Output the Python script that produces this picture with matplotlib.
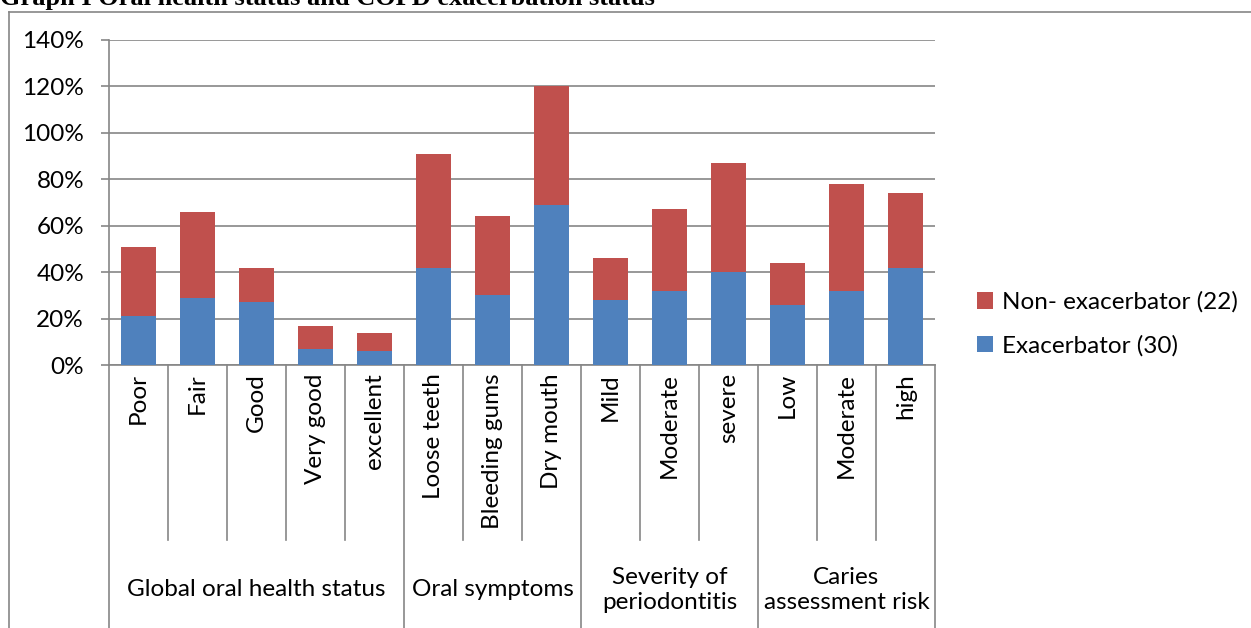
import numpy as np
import matplotlib
matplotlib.use("Agg")
import matplotlib.pyplot as plt
from matplotlib.lines import Line2D
from matplotlib.ticker import PercentFormatter

# Data (percent)
categories = ["Poor", "Fair", "Good", "Very good", "excellent",
              "Loose teeth", "Bleeding gums", "Dry mouth",
              "Mild", "Moderate", "severe",
              "Low", "Moderate", "high"]
exacerbator = [21, 29, 27, 7, 6, 42, 30, 69, 28, 32, 40, 26, 32, 42]
totals = [51, 66, 42, 17, 14, 91, 64, 120, 46, 67, 87, 44, 78, 74]
non_exacerbator = [t - e for t, e in zip(totals, exacerbator)]

groups = ["Global oral health status", "Oral symptoms",
          "Severity of\nperiodontitis", "Caries\nassessment risk"]
group_sizes = [5, 3, 3, 3]

BLUE = "#4F81BD"
RED = "#C0504D"
GRID = "#868686"
FONT = "Lato"
FS = 17.5

plt.rcParams['font.family'] = [FONT, 'DejaVu Sans']

W, H = 1251, 628
fig = plt.figure(figsize=(W / 100, H / 100), dpi=100)
ax = fig.add_axes([109 / W, 1 - 365 / H, (935 - 109) / W, (365 - 40) / H])

x = np.arange(len(categories))
ax.bar(x, exacerbator, width=0.6, color=BLUE, label="Exacerbator (30)", zorder=3)
ax.bar(x, non_exacerbator, width=0.6, bottom=exacerbator, color=RED,
       label="Non- exacerbator (22)", zorder=3)

ax.set_xlim(-0.5, len(categories) - 0.5)
ax.set_ylim(0, 140)
ax.set_yticks(np.arange(0, 141, 20))
ax.yaxis.set_major_formatter(PercentFormatter(decimals=0))
ax.yaxis.grid(True, color=GRID, linewidth=1.2, zorder=0)
ax.tick_params(axis="y", length=6, width=1.2, color=GRID, labelsize=FS, pad=12)
ax.set_xticks([])
for s in ["top", "right"]:
    ax.spines[s].set_visible(False)
for s in ["left", "bottom"]:
    ax.spines[s].set_color(GRID)
    ax.spines[s].set_linewidth(1.2)

# multi-level category axis
trans = ax.get_xaxis_transform()
y_inner = (365 - 540) / (365 - 40)
y_outer = (365 - 628) / (365 - 40)
for i, name in enumerate(categories):
    ax.text(i, -0.025, name, rotation=90, ha="center", va="top",
            fontsize=FS, transform=trans)

bounds = np.cumsum([0] + group_sizes)
for i in range(1, len(categories)):
    bottom = y_outer if i in bounds else y_inner
    ax.add_line(Line2D([i - 0.5, i - 0.5], [0, bottom], transform=trans,
                       color=GRID, linewidth=1.2, clip_on=False))
for xe in [-0.5, len(categories) - 0.5]:
    ax.add_line(Line2D([xe, xe], [0, y_outer], transform=trans,
                       color=GRID, linewidth=1.2, clip_on=False))

y_group = (365 - 590) / (365 - 40)
for g, start, size in zip(groups, bounds[:-1], group_sizes):
    ax.text(start + (size - 1) / 2, y_group, g, ha="center", va="center",
            fontsize=FS, linespacing=1.25, transform=trans)

# legend
handles, labels = ax.get_legend_handles_labels()
fig.legend(handles[::-1], labels[::-1], loc="center left",
           bbox_to_anchor=(955 / W, 1 - 324 / H), frameon=False,
           fontsize=FS, handlelength=0.65, handleheight=0.65,
           labelspacing=0.9, handletextpad=0.4)

# outer frame
fig.add_artist(Line2D([9 / W, 1], [1 - 12 / H, 1 - 12 / H], transform=fig.transFigure,
                      color=GRID, linewidth=1.2))
fig.add_artist(Line2D([9 / W, 9 / W], [0, 1 - 12 / H], transform=fig.transFigure,
                      color=GRID, linewidth=1.2))

# title, cut off at the top as in the source
fig.text(0, 1 - 5 / H, "Graph I Oral health status and COPD exacerbation status",
         fontsize=19, fontweight="bold", family="Liberation Serif",
         ha="left", va="baseline")

fig.savefig("out.png", dpi=100)
